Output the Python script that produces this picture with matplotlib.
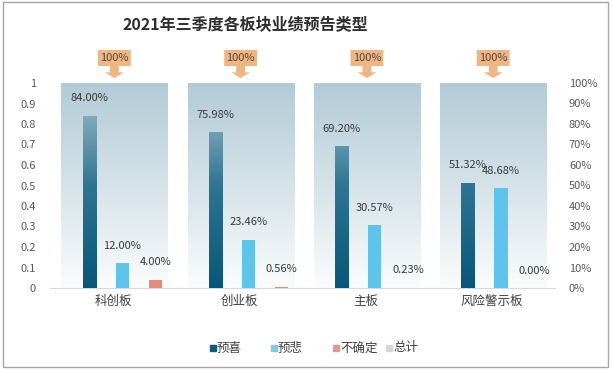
import matplotlib.pyplot as plt
import numpy as np
from matplotlib.colors import LinearSegmentedColormap
from matplotlib.patches import Polygon, Rectangle
from matplotlib.lines import Line2D

plt.rcParams['font.family'] = ['Noto Sans CJK SC', 'DejaVu Sans']

# data
categories = ['科创板', '创业板', '主板', '风险警示板']
yuxi = [0.84, 0.7598, 0.692, 0.5132]        # 预喜
yubei = [0.12, 0.2346, 0.3057, 0.4868]      # 预悲
buqueding = [0.04, 0.0056, 0.0023, 0.0]     # 不确定
zongji = [1.0, 1.0, 1.0, 1.0]               # 总计
series_names = ['预喜', '预悲', '不确定', '总计']

fig = plt.figure(figsize=(6.12, 3.72), dpi=100)
ax = fig.add_axes([50/612, 1-288/372, 505/612, 205/372])
x = np.arange(len(categories))

grad = np.linspace(0, 1, 256).reshape(-1, 1)
bg_cmap = LinearSegmentedColormap.from_list('bg', ['#fbfcfd', '#d6e3e9', '#b2cbd6'])
dark_cmap = LinearSegmentedColormap.from_list('dk', ['#07577a', '#2f7592', '#a9c4cf'])

def gradient_bars(xs, heights, width, cmap, z):
    bars = ax.bar(xs, heights, width, color='none', edgecolor='none', zorder=z)
    for b in bars:
        im = ax.imshow(grad, extent=[b.get_x(), b.get_x() + width, 0, 1], origin='lower',
                       cmap=cmap, aspect='auto', zorder=z)
        im.set_clip_path(b)
    return bars

# background totals
gradient_bars(x + 0.01, zongji, 0.84, bg_cmap, 1)

w = 0.105
gradient_bars(x - 0.19, yuxi, w, dark_cmap, 3)
ax.bar(x + 0.072, yubei, w, color='#5ec4ec', zorder=3)
ax.bar(x + 0.335, buqueding, w, color='#e58c76', zorder=3)

for xs, vals in [(x - 0.19, yuxi), (x + 0.072, yubei), (x + 0.335, buqueding)]:
    for xi, v in zip(xs, vals):
        ax.annotate(f'{v*100:.2f}%', (xi, v), xytext=(0, 9), textcoords='offset points',
                    ha='center', va='bottom', fontsize=8, color='#3a3a3a', zorder=5)

# callouts
for xi, v in zip(x + 0.01, zongji):
    cx = xi
    pts = [(cx - 0.13, v + 0.161), (cx + 0.13, v + 0.161), (cx + 0.13, v + 0.083),
           (cx + 0.035, v + 0.083), (cx + 0.035, v + 0.052), (cx + 0.075, v + 0.052),
           (cx, v + 0.024), (cx - 0.075, v + 0.052), (cx - 0.035, v + 0.052),
           (cx - 0.035, v + 0.083), (cx - 0.13, v + 0.083)]
    ax.add_patch(Polygon(pts, closed=True, facecolor='#efb685', edgecolor='none',
                         clip_on=False, zorder=4))
    ax.text(cx, v + 0.122, f'{v*100:.0f}%', ha='center', va='center', fontsize=8,
            color='#5a4535', clip_on=False, zorder=5)

ax.set_xlim(-0.5, 3.5)
ax.set_ylim(0, 1)
ax.set_yticks(np.arange(0, 1.01, 0.1))
ax.set_yticklabels(['0'] + [f'{t:.1f}' for t in np.arange(0.1, 0.95, 0.1)] + ['1'])
ax.set_xticks(x + 0.0)
ax.set_xticklabels(categories, fontsize=9, color='#404040')
ax.tick_params(axis='y', length=0, pad=10, labelsize=8, labelcolor='#595959')
ax.tick_params(axis='x', length=0, pad=5)
for s in ['top', 'right', 'left']:
    ax.spines[s].set_visible(False)
ax.spines['bottom'].set_color('#d9d9d9')

ax2 = ax.twinx()
ax2.set_ylim(0, 1)
ax2.set_yticks(np.arange(0, 1.01, 0.1))
ax2.set_yticklabels([f'{int(round(t*100))}%' for t in np.arange(0, 1.01, 0.1)])
ax2.tick_params(axis='y', length=0, pad=10, labelsize=8, labelcolor='#595959')
for s in ax2.spines.values():
    s.set_visible(False)

fig.text(245/612, 1 - 25/372, '2021年三季度各板块业绩预告类型', ha='center', va='center',
         fontsize=11.5, fontweight='bold', color='#2e2e2e')

# legend, placed entry by entry like the Excel one
colors = ['#0b5b7c', '#7fcbe8', '#e4978a', '#ccd9e0']
legend_x = [213, 274, 336, 389]
ly = 1 - 348/372
for name, c, lx in zip(series_names, colors, legend_x):
    fig.add_artist(Line2D([lx/612], [ly], marker='s', linestyle='none', markersize=4.5,
                          color=c, transform=fig.transFigure))
    fig.text((lx + 4)/612, ly, name, ha='left', va='center', fontsize=9, color='#404040')

fig.patches.append(Rectangle((3/612, 5/372), 605/612, 365/372, transform=fig.transFigure,
                             fill=False, edgecolor='#a6a6a6', linewidth=1))

fig.savefig('out.png', dpi=100)
